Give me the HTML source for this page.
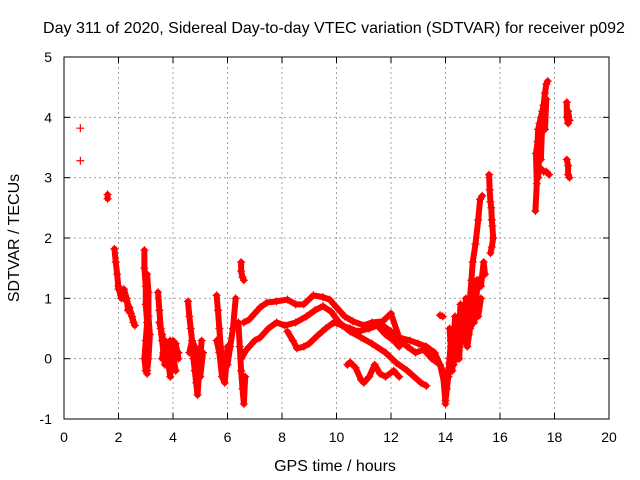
<!DOCTYPE html>
<html><head><meta charset="utf-8"><style>
html,body{margin:0;padding:0;background:#fff}
svg{display:block;font-family:"Liberation Sans",sans-serif}
</style></head><body>
<svg id="chart" width="640" height="480" viewBox="0 0 640 480" xmlns="http://www.w3.org/2000/svg">
<rect x="0" y="0" width="640" height="480" fill="#fff"/>
<text x="334" y="33" font-size="16" text-anchor="middle" fill="#000">Day 311 of 2020, Sidereal Day-to-day VTEC variation (SDTVAR) for receiver p092</text>
<g id="grid"></g>
<g id="marks"></g>
<g id="axes"></g>
<text x="335" y="471" font-size="16" text-anchor="middle">GPS time / hours</text>
<text x="19" y="238" font-size="16" text-anchor="middle" transform="rotate(-90 19 238)">SDTVAR / TECUs</text>
</svg>
<script>
const xTicks=[0,2,4,6,8,10,12,14,16,18,20];
const yTicks=[-1,0,1,2,3,4,5];
// tracks: hours and values
const trkHours=[
[0.6],[0.6],[1.6,1.6],
[1.85,1.9,1.95,2.0,2.1,2.2,2.3,2.4,2.5,2.6],
[2.0,2.1,2.2,2.3,2.35,2.45,2.55],
[2.95,2.95,3.0,3.0,3.05,3.0,2.95,3.0,3.05],
[3.05,3.1,3.1,3.15,3.1,3.05],
[3.45,3.5,3.55,3.6,3.65,3.7,3.75,3.8,3.9,4.0,4.1,4.2],
[3.5,3.6,3.7,3.8,3.9,4.0,4.1],
[3.6,3.7,3.8,3.9,4.0,4.1,4.2],
[4.55,4.6,4.65,4.7,4.75,4.8,4.85,4.9,5.0,5.05],
[4.6,4.7,4.8,4.9,5.0,5.1],
[5.6,5.65,5.7,5.75,5.8,5.9,6.0,6.1,6.2,6.3],
[5.6,5.7,5.8,5.9,6.0],
[6.5,6.5,6.55,6.6],
[6.4,6.45,6.5,6.55,6.6,6.65],
[6.6,6.8,7.0,7.2,7.45,7.8,8.2,8.5,8.8,9.15,9.5,9.75,10.0,10.3,10.6,11.0,11.3,11.7,12.0,12.3,12.7,13.0,13.3,13.6,13.9,14.0],
[6.5,6.7,7.0,7.2,7.5,7.8,8.1,8.5,8.9,9.2,9.5,9.8,10.1,10.5,10.9,11.3,11.8,12.2,12.6,13.1,13.3],
[8.2,8.4,8.55,8.8,9.0,9.3,9.6,9.9,10.2,10.5,10.8,11.2,11.5,11.8,12.1,12.3],
[10.4,10.5,10.7,10.9,11.0,11.2,11.4,11.6,11.8,12.1,12.3],
[11.7,12.0,12.3,12.6,12.9,13.2,13.5,13.8,14.0],
[13.8,13.9],
[14.0,14.05,14.1,14.15,14.2,14.3,14.4,14.5,14.6,14.7,14.8,14.9,15.0,15.1,15.2,15.3,15.4,15.45],
[14.1,14.2,14.3,14.4,14.5,14.6,14.7,14.8,14.9,15.0,15.1,15.2,15.3],
[14.15,14.25,14.35,14.45,14.55,14.65,14.75,14.85,14.95,15.05,15.15],
[14.8,14.9,14.95,15.0,15.1,15.2,15.27,15.35],
[15.6,15.62,15.65,15.68,15.7,15.72,15.75,15.7,15.65],
[17.3,17.35,17.32,17.38,17.4,17.45,17.5,17.55,17.6,17.65,17.7,17.75],
[17.4,17.45,17.5,17.55,17.6,17.65,17.7],
[17.5,17.6,17.7,17.8],
[18.45,18.45,18.5,18.5,18.55],
[18.45,18.5,18.5,18.55]
];
const trkValues=[
[3.82],[3.28],[2.72,2.65],
[1.82,1.6,1.4,1.15,1.05,1.0,0.95,0.85,0.7,0.55],
[1.2,1.0,1.15,1.0,0.8,0.75,0.6],
[1.8,1.5,1.2,0.9,0.6,0.3,0.0,-0.2,-0.25],
[1.4,1.1,0.7,0.4,0.0,-0.2],
[1.1,0.8,0.5,0.3,0.1,-0.1,0.2,0.0,-0.3,0.3,0.1,0.1],
[0.6,0.4,0.2,0.1,0.3,0.05,-0.2],
[0.0,0.3,-0.1,0.2,-0.1,0.25,0.0],
[0.95,0.7,0.5,0.3,0.0,-0.2,-0.4,-0.6,0.0,0.3],
[0.1,0.3,0.2,-0.1,-0.3,0.1],
[1.05,0.8,0.5,0.2,0.0,-0.2,-0.1,0.2,0.5,1.0],
[0.3,0.1,-0.3,-0.4,0.2],
[1.6,1.45,1.35,1.3],
[0.6,0.2,-0.2,-0.5,-0.75,-0.3],
[0.6,0.65,0.75,0.85,0.93,0.95,0.98,0.9,0.9,1.05,1.02,0.98,0.85,0.7,0.62,0.55,0.6,0.62,0.75,0.35,0.3,0.25,0.2,0.1,-0.2,-0.75],
[0.0,0.15,0.3,0.35,0.5,0.6,0.55,0.6,0.7,0.8,0.87,0.78,0.6,0.45,0.35,0.25,0.1,-0.07,-0.2,-0.4,-0.45],
[0.45,0.3,0.17,0.2,0.25,0.38,0.5,0.6,0.55,0.5,0.45,0.5,0.55,0.4,0.3,0.2],
[-0.1,-0.06,-0.15,-0.35,-0.4,-0.3,-0.1,-0.25,-0.3,-0.2,-0.3],
[0.55,0.45,0.3,0.2,0.1,0.15,0.0,-0.1,-0.5],
[0.72,0.7],
[-0.7,-0.5,-0.3,0.0,0.2,0.1,0.4,0.2,0.6,0.4,0.7,0.6,1.0,0.9,1.3,1.2,1.6,1.4],
[-0.3,0.3,-0.1,0.6,0.0,0.8,0.3,0.2,0.5,0.6,0.8,0.7,1.0],
[0.5,-0.2,0.7,0.0,0.9,0.3,1.0,0.4,1.1,0.6,1.3],
[0.7,1.0,1.3,1.6,1.9,2.3,2.64,2.7],
[3.05,2.8,2.6,2.5,2.3,2.2,2.0,1.85,1.75],
[2.45,2.9,3.4,3.6,3.8,3.9,4.0,4.1,4.2,4.4,4.55,4.6],
[3.0,3.5,3.3,3.9,4.2,3.8,4.3],
[3.15,3.1,3.1,3.05],
[4.25,4.0,3.9,4.1,3.95],
[3.3,3.2,3.05,3.0]
];
const X0=64,X1=609,Y0=419,Y1=57;
const sx=h=>X0+(h-0)/(20-0)*(X1-X0);
const sy=v=>Y0-(v-(-1))/(5-(-1))*(Y0-Y1);
const NS="http://www.w3.org/2000/svg";
const grid=document.getElementById('grid'),axes=document.getElementById('axes'),marks=document.getElementById('marks');
function mk(t,a,p){const e=document.createElementNS(NS,t);for(const k in a)e.setAttribute(k,a[k]);p.appendChild(e);return e;}
xTicks.forEach(t=>{const x=sx(t);
 if(t>0&&t<20){const g=mk('line',{x1:x,y1:Y0,x2:x,y2:Y1,stroke:'#a0a0a0','stroke-dasharray':'2,3'},grid);
 
 }
 mk('line',{x1:x,y1:Y0,x2:x,y2:Y0-6,stroke:'#000'},axes);
 mk('line',{x1:x,y1:Y1,x2:x,y2:Y1+6,stroke:'#000'},axes);
 const l=mk('text',{x:x,y:Y0+23,'font-size':14,'text-anchor':'middle'},axes);l.textContent=t;
 
 });
yTicks.forEach(t=>{const y=sy(t);
 if(t>-1&&t<5){const g=mk('line',{x1:X0,y1:y,x2:X1,y2:y,stroke:'#a0a0a0','stroke-dasharray':'2,3'},grid);
 
 }
 mk('line',{x1:X0,y1:y,x2:X0+6,y2:y,stroke:'#000'},axes);
 mk('line',{x1:X1,y1:y,x2:X1-6,y2:y,stroke:'#000'},axes);
 const l=mk('text',{x:X0-12,y:y+5,'font-size':14,'text-anchor':'end'},axes);l.textContent=t;
 
 });
const fr=mk('rect',{x:X0,y:Y1,width:X1-X0,height:Y0-Y1,fill:'none',stroke:'#000'},axes);


trkHours.forEach((hs,i)=>{const vs=trkValues[i];
 const g=mk('g',{},marks);
 
 
 if(hs.length>1){const pl=mk('polyline',{points:hs.map((h,j)=>sx(h)+','+sy(vs[j])).join(' '),fill:'none',stroke:'#f00','stroke-width':6,'stroke-linejoin':'round','stroke-linecap':'round'},g);
 
 }
 hs.forEach((h,j)=>{const x=sx(h),y=sy(vs[j]);
 const p=mk('path',{d:`M${x-4},${y}h8M${x},${y-4}v8`,stroke:'#f00','stroke-width':1.2,fill:'none'},g);
 
 });
});
</script>
</body></html>
